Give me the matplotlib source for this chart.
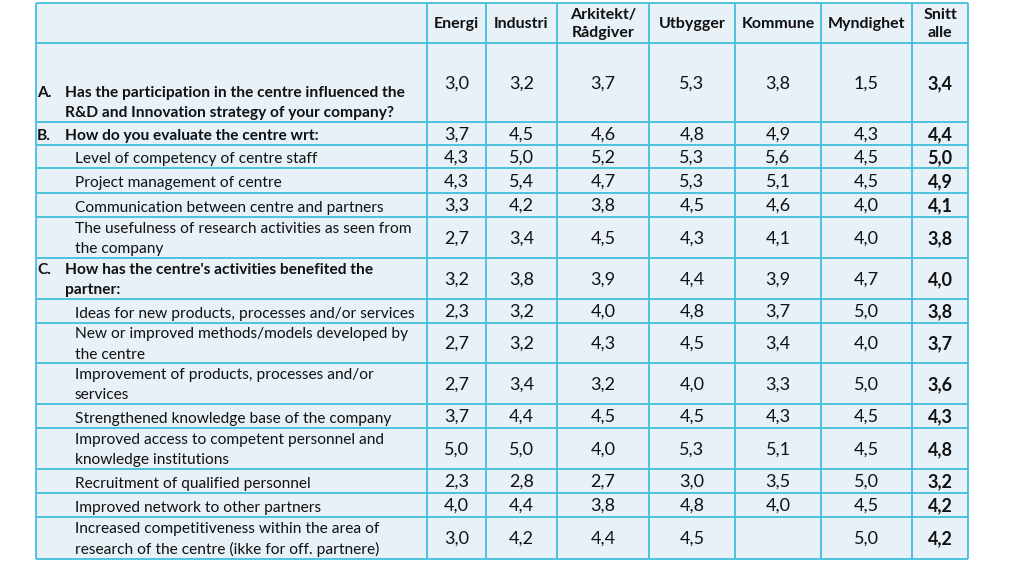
import matplotlib
matplotlib.use("Agg")
import matplotlib.pyplot as plt
from matplotlib.patches import Rectangle

# Table content
columns = ["Energi", "Industri", "Arkitekt/\nRådgiver", "Utbygger",
           "Kommune", "Myndighet", "Snitt\nalle"]

prefixes = ["A.", "B.", "", "", "", "", "C.", "", "", "", "", "", "", "", ""]
row_labels = [
    "Has the participation in the centre influenced the\nR&D and Innovation strategy of your company?",
    "How do you evaluate the centre wrt:",
    "Level of competency of centre staff",
    "Project management of centre",
    "Communication between centre and partners",
    "The usefulness of research activities as seen from\nthe company",
    "How has the centre's activities benefited the\npartner:",
    "Ideas for new products, processes and/or services",
    "New or improved methods/models developed by\nthe centre",
    "Improvement of products, processes and/or\nservices",
    "Strengthened knowledge base of the company",
    "Improved access to competent personnel and\nknowledge institutions",
    "Recruitment of qualified personnel",
    "Improved network to other partners",
    "Increased competitiveness within the area of\nresearch of the centre (ikke for off. partnere)",
]

energi    = [3.0, 3.7, 4.3, 4.3, 3.3, 2.7, 3.2, 2.3, 2.7, 2.7, 3.7, 5.0, 2.3, 4.0, 3.0]
industri  = [3.2, 4.5, 5.0, 5.4, 4.2, 3.4, 3.8, 3.2, 3.2, 3.4, 4.4, 5.0, 2.8, 4.4, 4.2]
arkitekt  = [3.7, 4.6, 5.2, 4.7, 3.8, 4.5, 3.9, 4.0, 4.3, 3.2, 4.5, 4.0, 2.7, 3.8, 4.4]
utbygger  = [5.3, 4.8, 5.3, 5.3, 4.5, 4.3, 4.4, 4.8, 4.5, 4.0, 4.5, 5.3, 3.0, 4.8, 4.5]
kommune   = [3.8, 4.9, 5.6, 5.1, 4.6, 4.1, 3.9, 3.7, 3.4, 3.3, 4.3, 5.1, 3.5, 4.0, None]
myndighet = [1.5, 4.3, 4.5, 4.5, 4.0, 4.0, 4.7, 5.0, 4.0, 5.0, 4.5, 4.5, 5.0, 4.5, 5.0]
snitt     = [3.4, 4.4, 5.0, 4.9, 4.1, 3.8, 4.0, 3.8, 3.7, 3.6, 4.3, 4.8, 3.2, 4.2, 4.2]

values = [energi, industri, arkitekt, utbygger, kommune, myndighet, snitt]

# Layout (pixel grid)
col_edges = [36, 427, 486, 557, 649, 735, 821, 912, 968]
row_edges = [3, 43, 122, 145, 168, 193, 217, 258, 299, 323, 363, 404, 428,
             469, 493, 517, 559]

bg = "#E8F1F8"
line_c = "#42BFDC"
txt_c = "#111111"
font = "Lato"
lab_fs = 11.2
num_fs = 13
ls = 1.55

fig = plt.figure(figsize=(10.24, 5.76), dpi=100)
ax = fig.add_axes([0, 0, 1, 1])
ax.set_xlim(0, 1024)
ax.set_ylim(576, 0)
ax.axis("off")

ax.add_patch(Rectangle((col_edges[0], row_edges[0]),
                       col_edges[-1] - col_edges[0], row_edges[-1] - row_edges[0],
                       facecolor=bg, edgecolor="none", zorder=0))
ax.vlines(col_edges, row_edges[0], row_edges[-1], color=line_c, lw=1.3, zorder=2)
ax.hlines(row_edges, col_edges[0], col_edges[-1], color=line_c, lw=1.3, zorder=2)

# header
for j, name in enumerate(columns):
    xc = (col_edges[j + 1] + col_edges[j + 2]) / 2
    yc = (row_edges[0] + row_edges[1]) / 2
    ax.text(xc, yc + 1, name, ha="center", va="center", fontsize=11.5,
            fontweight="bold", family=font, color=txt_c, linespacing=1.45)

# rows
for i, label in enumerate(row_labels):
    top, bot = row_edges[i + 1], row_edges[i + 2]
    yc = (top + bot) / 2
    nlines = label.count("\n") + 1
    if prefixes[i]:
        pre = prefixes[i] + "\n " * (nlines - 1)
        ax.text(37, bot - 2, pre, ha="left", va="bottom", fontsize=lab_fs,
                fontweight="bold", family=font, color=txt_c, linespacing=ls)
        ax.text(65, bot - 2, label, ha="left", va="bottom", fontsize=lab_fs,
                fontweight="bold", family=font, color=txt_c, linespacing=ls)
    else:
        dy = 3 if nlines == 1 else 1.5
        ax.text(75, yc + dy, label, ha="left", va="center", fontsize=lab_fs,
                family=font, color=txt_c, linespacing=ls)
    for j, col in enumerate(values):
        v = col[i]
        if v is None:
            continue
        xc = (col_edges[j + 1] + col_edges[j + 2]) / 2
        last = j == len(values) - 1
        ax.text(xc, yc + 1, f"{v:.1f}".replace(".", ","), ha="center",
                va="center", fontsize=num_fs, family=font, color=txt_c,
                fontweight="bold" if last else "normal")

fig.savefig("out.png", dpi=100, facecolor="white")
